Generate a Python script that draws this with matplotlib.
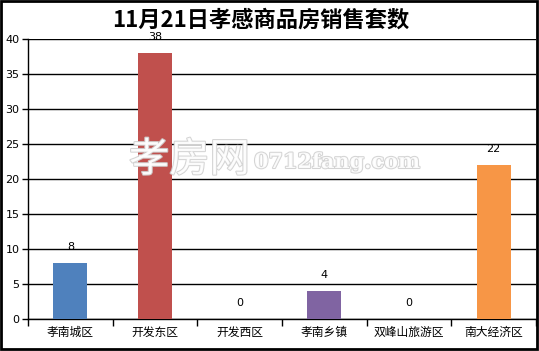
import matplotlib
matplotlib.use("Agg")
import matplotlib.pyplot as plt
import matplotlib.patheffects as pe
from matplotlib.patches import Rectangle

plt.rcParams['font.family'] = ['Noto Sans CJK SC', 'DejaVu Sans']

categories = ["孝南城区", "开发东区", "开发西区", "孝南乡镇", "双峰山旅游区", "南大经济区"]
values = [8, 38, 0, 4, 0, 22]
colors = ["#4F81BD", "#C0504D", "#9BBB59", "#8064A2", "#4BACC6", "#F79646"]
yticks = [0, 5, 10, 15, 20, 25, 30, 35, 40]
title = "11月21日孝感商品房销售套数"

W, H = 539, 351
fig = plt.figure(figsize=(W / 100, H / 100), dpi=100)
ax = fig.add_axes([28 / W, 1 - 319 / H, (536 - 28) / W, (319 - 39) / H])

x = list(range(len(categories)))
ax.bar(x, values, width=0.4, color=colors, zorder=3)
for xi, v in zip(x, values):
    ax.text(xi, v + 1.5, str(v), ha='center', va='bottom', fontsize=8,
            family=['DejaVu Sans'], zorder=4)

ax.set_xlim(-0.5, len(categories) - 0.5)
ax.set_ylim(0, 40)
ax.set_yticks(yticks)
ax.set_yticklabels([str(t) for t in yticks], fontsize=8, family=['DejaVu Sans'])
ax.yaxis.grid(True, color='black', linewidth=1, zorder=1)
ax.set_axisbelow(True)

ax.set_xticks([i - 0.5 for i in range(len(categories) + 1)])
ax.set_xticklabels([])
ax.set_xticks(x, minor=True)
ax.set_xticklabels(categories, minor=True, fontsize=8.5)
ax.tick_params(axis='x', which='minor', length=0, pad=5)
ax.tick_params(axis='x', which='major', length=5, width=1, color='black')
ax.tick_params(axis='y', length=4, width=1, pad=2)

for s in ['top', 'right']:
    ax.spines[s].set_visible(False)
ax.spines['left'].set_linewidth(1)
ax.spines['bottom'].set_linewidth(1)

fig.text(261 / W, 1 - 20 / H, title, ha='center', va='center',
         fontsize=16, fontweight='bold')

# watermark
fig.text(129 / W, 1 - 160 / H, "孝房网", ha='left', va='center',
         fontsize=29, color='white', alpha=0.9, zorder=10,
         path_effects=[pe.withStroke(linewidth=1.5, foreground='#d0d0d0')])
fig.text(254 / W, 1 - 162 / H, "0712fang.com", ha='left', va='center',
         fontsize=15, color='white', alpha=0.9, zorder=10, family=['DejaVu Serif'],
         fontweight='bold',
         path_effects=[pe.withStroke(linewidth=1.5, foreground='#d0d0d0')])

fig.patches.append(Rectangle((0.5 / W, 2 / H), (W - 3) / W, (H - 3) / H,
                             transform=fig.transFigure, fill=False,
                             edgecolor='black', linewidth=2))

fig.savefig("out.png", dpi=100)
